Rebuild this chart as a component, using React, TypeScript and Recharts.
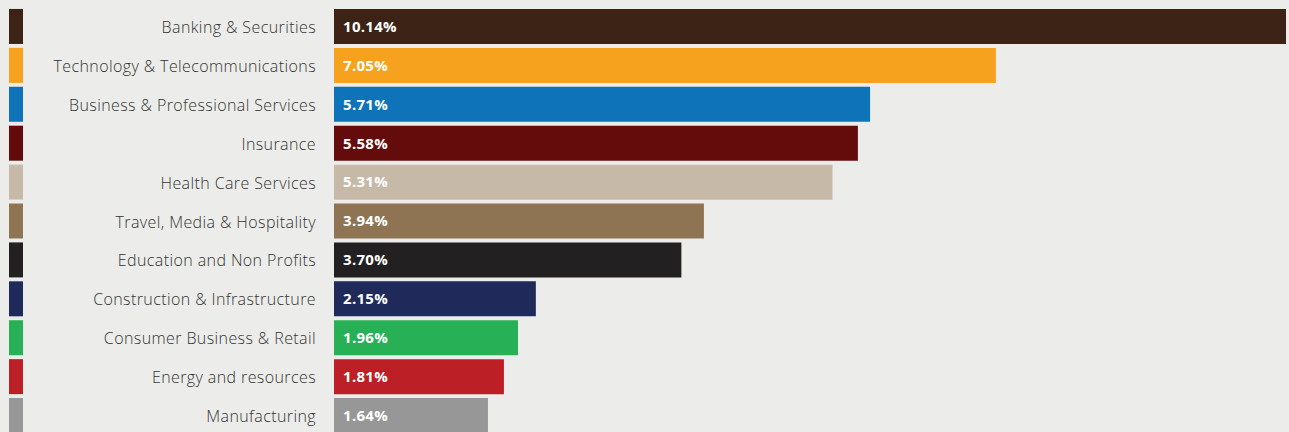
import { BarChart, Bar, XAxis, YAxis, Cell, LabelList } from 'recharts';

const categories = [
  'Banking & Securities',
  'Technology & Telecommunications',
  'Business & Professional Services',
  'Insurance',
  'Health Care Services',
  'Travel, Media & Hospitality',
  'Education and Non Profits',
  'Construction & Infrastructure',
  'Consumer Business & Retail',
  'Energy and resources',
  'Manufacturing',
];

const shares = [10.14, 7.05, 5.71, 5.58, 5.31, 3.94, 3.7, 2.15, 1.96, 1.81, 1.64];

const COLORS = [
  '#3d2316', '#f7a21e', '#0e73b9', '#640b0b', '#c6b9a8', '#8e7452',
  '#222020', '#1f2a5a', '#28b057', '#bc1f25', '#979797',
];

const data = categories.map((name, i) => ({ name, value: shares[i] }));
const colorOf: Record<string, string> = {};
categories.forEach((c, i) => { colorOf[c] = COLORS[i]; });

const FONT = '"Open Sans", sans-serif';

// label on the left plus the colour swatch at the page edge
const CategoryTick = (props: any) => {
  const { y, payload } = props;
  return (
    <g>
      <rect x={9} y={y - 17.5} width={14} height={35} fill={colorOf[payload.value]} />
      <text
        x={316}
        y={y}
        dy={6.5}
        textAnchor="end"
        fill="#333333"
        fontSize={16}
        fontWeight={300}
        letterSpacing={0.4}
        fontFamily={FONT}
      >
        {payload.value}
      </text>
    </g>
  );
};

export default function App() {
  return (
    <div style={{ position: 'absolute', top: 0, left: 0, width: 1289, height: 432, overflow: 'hidden', background: '#ecedea' }}>
      <BarChart
        width={1289}
        height={436}
        data={data}
        layout="vertical"
        margin={{ top: 7, right: 3, bottom: 1, left: 0 }}
        barCategoryGap={0}
      >
        <XAxis type="number" domain={[0, 10.14]} hide />
        <YAxis
          type="category"
          dataKey="name"
          width={334}
          axisLine={false}
          tickLine={false}
          tick={<CategoryTick />}
          interval={0}
        />
        <Bar dataKey="value" barSize={35} isAnimationActive={false}>
          {data.map((d, i) => (
            <Cell key={d.name} fill={COLORS[i]} />
          ))}
          <LabelList
            dataKey="value"
            position="insideLeft"
            offset={9}
            formatter={(v: any) => `${Number(v).toFixed(2)}%`}
            fill="#ffffff"
            fontSize={15}
            fontWeight={700}
            letterSpacing={0.3}
            fontFamily={FONT}
          />
        </Bar>
      </BarChart>
    </div>
  );
}
